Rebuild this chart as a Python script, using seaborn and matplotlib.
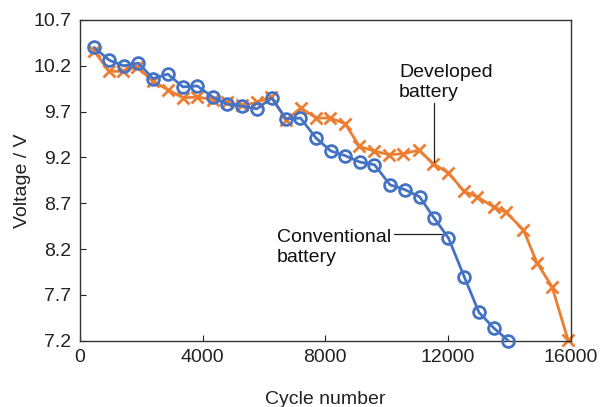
import numpy as np
import pandas as pd
import matplotlib
matplotlib.use("Agg")
import matplotlib.pyplot as plt
import seaborn as sns

# Conventional battery (blue circles)
conv_cycles = [470, 970, 1430, 1910, 2390, 2870, 3360, 3830, 4330, 4810,
               5300, 5770, 6250, 6720, 7190, 7700, 8180, 8640, 9120, 9600,
               10110, 10580, 11070, 11540, 12010, 12520, 13000, 13480, 13960]
conv_voltage = [10.40, 10.26, 10.20, 10.23, 10.06, 10.11, 9.97, 9.98, 9.86, 9.78,
                9.76, 9.73, 9.85, 9.62, 9.63, 9.41, 9.27, 9.22, 9.15, 9.12,
                8.90, 8.85, 8.77, 8.54, 8.32, 7.90, 7.51, 7.34, 7.20]

# Developed battery (orange crosses)
dev_cycles = [470, 960, 1420, 1870, 2380, 2870, 3370, 3830, 4330, 4810,
              5300, 5770, 6240, 6730, 7200, 7710, 8160, 8640, 9110, 9590,
              10080, 10540, 11050, 11520, 12010, 12520, 12950, 13480, 13890,
              14450, 14890, 15380, 15900]
dev_voltage = [10.36, 10.14, 10.14, 10.19, 10.03, 9.94, 9.85, 9.86, 9.83, 9.80,
               9.77, 9.80, 9.86, 9.61, 9.74, 9.63, 9.63, 9.57, 9.32, 9.27,
               9.23, 9.24, 9.28, 9.13, 9.03, 8.83, 8.77, 8.66, 8.60,
               8.41, 8.05, 7.79, 7.21]

y_ticks = [7.2, 7.7, 8.2, 8.7, 9.2, 9.7, 10.2, 10.7]
x_ticks = [0, 4000, 8000, 12000, 16000]

blue = "#4472C4"
orange = "#ED7D31"

sns.set_style("white")
plt.rcParams['font.family'] = ['Liberation Sans', 'DejaVu Sans']

fig = plt.figure(figsize=(6, 4.07), dpi=100)
ax = fig.add_axes([0.1328, 0.1629, 0.8189, 0.7880])

sns.lineplot(x=conv_cycles, y=conv_voltage, ax=ax, color=blue, sort=False,
             linewidth=2.0, marker='o', markersize=8.5, markerfacecolor='none',
             markeredgecolor=blue, markeredgewidth=2.0, zorder=3, clip_on=False)
sns.lineplot(x=dev_cycles, y=dev_voltage, ax=ax, color=orange, sort=False,
             linewidth=2.0, marker='x', markersize=8, markeredgecolor=orange,
             markeredgewidth=2.0, zorder=2, clip_on=False)

ax.set_xlim(0, 16000)
ax.set_ylim(7.2, 10.7)
ax.set_xticks(x_ticks)
ax.set_yticks(y_ticks)
ax.set_yticklabels([f"{v:.1f}" for v in y_ticks])
ax.tick_params(direction='in', length=4, width=0.8, labelsize=14, pad=6,
               colors='#222222', left=True, bottom=True)
for side in ['top', 'right', 'left', 'bottom']:
    ax.spines[side].set_visible(True)
    ax.spines[side].set_color('#333333')
    ax.spines[side].set_linewidth(1.0)

ax.set_xlabel("Cycle number", fontsize=14, labelpad=18, color='#222222')
ax.set_ylabel("Voltage / V", fontsize=14, labelpad=2, color='#222222')

# annotations
ax.text(10400, 10.02, "Developed\nbattery", fontsize=14, ha='left',
        va='center', linespacing=1.25, color='#111111')
ax.plot([11540, 11540], [9.79, 9.15], color='#222222', linewidth=0.9)
ax.text(6420, 8.22, "Conventional\nbattery", fontsize=14, ha='left',
        va='center', linespacing=1.25, color='#111111')
ax.plot([10220, 11790], [8.36, 8.36], color='#222222', linewidth=0.9)

fig.savefig("out.png", dpi=100)
